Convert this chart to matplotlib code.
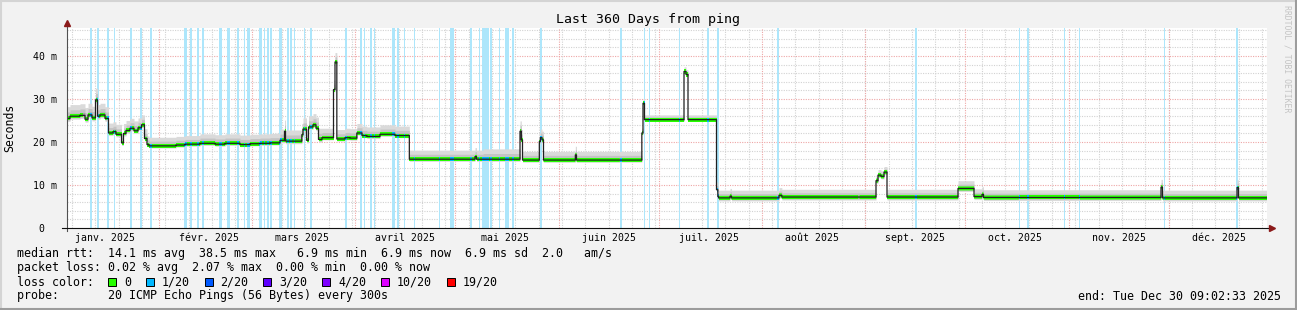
import datetime as dt
import numpy as np
import matplotlib
matplotlib.use("Agg")
import matplotlib.pyplot as plt
import matplotlib.dates as mdates
import matplotlib.patches as patches
from matplotlib.lines import Line2D

# ------------------------------------------------------------
# data
# ------------------------------------------------------------
START = dt.datetime(2025, 1, 4, 9, 2, 33)
END = dt.datetime(2025, 12, 30, 9, 2, 33)
SPAN_DAYS = 360

# median rtt in ms, as steps: day since START -> value
med_day = [0.0, 1.05, 4.05, 5.55, 6.45, 7.65, 8.7, 9.3, 10.05, 11.55,
           12.6, 13.95, 14.85, 16.5, 17.1, 17.85, 19.05, 20.25, 21.45, 22.5,
           23.4, 24.15, 24.75, 32.85, 35.55, 40.05, 44.55, 47.55, 52.05, 55.05,
           58.05, 61.05, 64.05, 65.4, 65.7, 70.56, 70.95, 72.0, 72.6, 73.95,
           74.85, 75.6, 76.65, 80.1, 80.55, 81.09, 83.55, 85.05, 87.06, 88.65,
           90.06, 94.05, 98.55, 102.84, 122.55, 123.0, 136.05, 136.44, 136.8, 141.84,
           142.14, 142.65, 143.1, 152.64, 153.0, 172.56, 172.95, 173.4, 185.25, 185.85,
           186.45, 195.0, 195.36, 195.6, 199.05, 199.5, 213.75, 214.56, 242.85, 243.45,
           244.35, 245.25, 246.15, 267.45, 272.25, 274.65, 275.1, 328.35, 328.8, 351.15,
           351.6]
med_ms = [25.5, 26.0, 26.2, 25.3, 26.3, 25.6, 29.8, 26.0, 26.3, 25.5,
          22.1, 22.4, 21.8, 19.8, 22.0, 22.7, 23.2, 22.6, 23.3, 24.0,
          20.8, 19.4, 19.1, 19.3, 19.5, 19.7, 19.5, 19.7, 19.4, 19.6,
          19.7, 19.8, 20.4, 22.5, 20.2, 21.7, 23.0, 20.4, 23.5, 24.0,
          23.2, 20.6, 21.0, 32.2, 38.6, 20.7, 21.0, 20.9, 22.1, 21.5,
          21.3, 21.8, 21.5, 16.0, 16.6, 16.0, 22.5, 20.5, 15.8, 20.1,
          21.0, 20.5, 15.8, 17.0, 15.8, 22.1, 29.0, 25.2, 36.4, 35.7,
          25.2, 8.9, 7.35, 7.0, 7.4, 7.0, 7.6, 7.2, 11.0, 12.3,
          12.0, 13.0, 7.2, 9.2, 7.3, 7.8, 7.1, 9.5, 7.0, 9.4,
          7.0]

# smoke spread around the median (ms above / below)
smoke_day = [0.0, 12.6, 24.15, 40.0, 64.05, 76.65, 102.84, 125.0, 136.8, 172.56, 195.0, 242.85, 246.15]
smoke_hi = [2.7, 2.3, 2.0, 2.2, 2.6, 2.2, 2.1, 2.4, 2.0, 1.1, 1.8, 1.3, 1.8]
smoke_lo = [0.7, 0.6, 0.5, 0.5, 0.6, 0.5, 0.5, 0.5, 0.5, 0.4, 0.7, 0.6, 0.7]

# 1/20 packet loss events: start day and length in days
loss_day = [5.1, 7.05, 9.09, 12.09, 14.25, 18.99, 21.99, 24.99, 35.19, 36.99,
            39.09, 40.59, 45.75, 48.09, 51.09, 53.25, 54.15, 57.69, 59.25, 60.15,
            61.05, 63.75, 66.15, 67.05, 68.25, 71.19, 72.99, 83.49, 87.99, 89.19,
            91.05, 92.19, 97.65, 99.15, 101.25, 104.25, 111.75, 115.05, 121.05, 123.75,
            124.65, 127.05, 129.75, 131.55, 133.65, 142.05, 166.05, 173.25, 174.75, 183.75,
            192.15, 195.15, 213.15, 237.6, 254.55, 285.75, 288.15, 299.25, 303.75, 329.25,
            350.85]
loss_len = [0.3, 0.6, 0.6, 0.6, 0.3, 0.6, 0.6, 0.6, 0.9, 0.6,
            0.6, 0.6, 0.9, 0.9, 0.6, 0.3, 0.9, 0.9, 0.3, 0.6,
            0.6, 0.9, 0.6, 0.6, 0.3, 0.3, 0.6, 0.6, 0.6, 0.3,
            0.6, 0.3, 0.9, 0.6, 0.3, 0.3, 0.3, 1.2, 0.5, 0.3,
            2.1, 0.6, 0.3, 1.2, 0.6, 0.6, 0.6, 0.3, 0.3, 0.3,
            0.6, 0.6, 0.6, 0.3, 0.6, 0.3, 0.6, 0.3, 0.3, 0.3,
            0.6]

month_labels = ["janv. 2025", "févr. 2025", "mars 2025", "avril 2025",
                "mai 2025", "juin 2025", "juil. 2025", "août 2025",
                "sept. 2025", "oct. 2025", "nov. 2025", "déc. 2025"]
y_ticks = [0, 10, 20, 30, 40]
y_tick_labels = ["0  ", "10 m", "20 m", "30 m", "40 m"]

rtt_stats = ["14.1", "38.5", "6.9", "6.9", "6.9", "2.0"]
loss_stats = ["0.02", "2.07", "0.00", "0.00"]
loss_names = ["0", "1/20", "2/20", "3/20", "4/20", "10/20", "19/20"]
loss_colors = ["#26ff00", "#00b8ff", "#0059ff", "#5e00ff", "#7e00ff", "#dd00ff", "#ff0000"]

# ------------------------------------------------------------
# style
# ------------------------------------------------------------
W, H = 1297, 310
BG = "#f2f2f2"
MONO = "DejaVu Sans Mono"
PX_L, PX_R, PX_T, PX_B = 66.5, 1266.5, 28, 228
YMAX = (PX_B - PX_T) / 4.3
GRID_MINOR = "#d2d2d2"
GRID_MAJOR = "#eea6a6"
STRIPE = "#ade6fb"
ARROW = "#8b1a1a"

plt.rcParams["font.family"] = MONO


def fx(px):
    return px / W


def fy(py):
    return 1 - py / H


fig = plt.figure(figsize=(W / 100, H / 100), dpi=100, facecolor=BG)
ax = fig.add_axes([fx(PX_L), fy(PX_B), (PX_R - PX_L) / W, (PX_B - PX_T) / H])
ax.set_facecolor("white")
for s in ax.spines.values():
    s.set_visible(False)

x0 = mdates.date2num(START)
x1 = mdates.date2num(END)
ax.set_xlim(x0, x1)
ax.set_ylim(0, YMAX)

# fine time grid, values looked up from the step knots
t = np.arange(0, SPAN_DAYS + 0.001, 0.05)
med = np.array(med_ms)[np.searchsorted(med_day, t, side="right") - 1]
k = np.searchsorted(smoke_day, t, side="right") - 1
hi = np.array(smoke_hi)[k]
lo = np.array(smoke_lo)[k]
lossy = np.zeros_like(t, dtype=bool)
for s, l in zip(loss_day, loss_len):
    lossy |= (t >= s) & (t < s + l)
x = x0 + t

# grid
for m in np.arange(2, YMAX, 2):
    if m % 10:
        ax.axhline(m, color=GRID_MINOR, lw=0.8, ls=(0, (1, 1.2)), zorder=1)
for m in y_ticks[1:]:
    ax.axhline(m, color=GRID_MAJOR, lw=0.8, ls=(0, (1, 1.2)), zorder=1)
weeks = mdates.WeekdayLocator(byweekday=mdates.MO).tick_values(START, END)
for w in weeks:
    ax.axvline(w, color=GRID_MINOR, lw=0.8, ls=(0, (1, 1.2)), zorder=1)
months = [m for m in mdates.MonthLocator().tick_values(START, END) if x0 < m < x1]
for m in months:
    ax.axvline(m, color=GRID_MAJOR, lw=0.8, ls=(0, (1, 1.2)), zorder=1)

# loss background stripes
for s, l in zip(loss_day, loss_len):
    ax.axvspan(x0 + s, x0 + s + l, color=STRIPE, lw=0, zorder=2)

# smoke
ax.fill_between(x, med - lo, med + hi, step="post", color="#dadada", lw=0, zorder=3)
ax.fill_between(x, med - lo * 0.6, med + hi * 0.55, step="post", color="#c4c4c4", lw=0, zorder=3)
ax.fill_between(x, med - lo * 0.3, med + hi * 0.25, step="post", color="#a2a2a2", lw=0, zorder=3)

# median band coloured by loss, then the median line
bw = 0.47
ax.fill_between(x, med - bw, med + bw, where=~lossy, step="post",
                color=loss_colors[0], lw=0, zorder=4)
ax.fill_between(x, med - bw, med + bw, where=lossy, step="post",
                color=loss_colors[1], lw=0, zorder=4)
ax.step(x, med, where="post", color="#202020", lw=0.9, zorder=5)

# ticks
ax.set_yticks(y_ticks)
ax.set_yticklabels(y_tick_labels, fontsize=7.1)
ax.tick_params(axis="y", length=0, pad=6.5)
ax.xaxis.set_major_locator(mdates.MonthLocator(bymonthday=16))
ax.xaxis.set_major_formatter(plt.FuncFormatter(
    lambda v, p: month_labels[mdates.num2date(v).month - 1]))
ax.tick_params(axis="x", length=0, pad=3.5, labelsize=7.1)

# axis lines with arrows
fig.add_artist(Line2D([fx(PX_L), fx(PX_L)], [fy(PX_B + 3), fy(PX_T - 4)],
                      color="#505050", lw=0.8))
fig.add_artist(Line2D([fx(PX_L - 4), fx(PX_R + 3)], [fy(PX_B), fy(PX_B)],
                      color="#101010", lw=0.8))
fig.add_artist(Line2D([fx(PX_L)], [fy(PX_T - 5)], marker="^", ms=4.5,
                      color=ARROW, lw=0))
fig.add_artist(Line2D([fx(PX_R + 5)], [fy(PX_B)], marker=">", ms=4.5,
                      color=ARROW, lw=0))

# titles
fig.text(0.5, fy(19), "Last 360 Days from ping", ha="center", va="center", fontsize=9.5)
fig.text(fx(10), fy(128), "Seconds", ha="center", va="center", rotation=90, fontsize=8.3)
fig.text(fx(1287), fy(5), "RRDTOOL / TOBI OETIKER", ha="center", va="top",
         rotation=270, fontsize=5.9, color="#c4c4c4")

# legend
LEG_X = 16.6
fs = 8.4
CW = 6.95
fig.text(fx(LEG_X), fy(254),
         "median rtt:  %s ms avg  %s ms max   %s ms min  %s ms now  %s ms sd  %s   am/s"
         % tuple(rtt_stats), va="center", fontsize=fs)
fig.text(fx(LEG_X), fy(268),
         "packet loss: %s %% avg  %s %% max  %s %% min  %s %% now" % tuple(loss_stats),
         va="center", fontsize=fs)
fig.text(fx(LEG_X), fy(282), "loss color:", va="center", fontsize=fs)
bx = 107.8
for name, col in zip(loss_names, loss_colors):
    fig.add_artist(patches.Rectangle((fx(bx), fy(286)), 8 / W, 8 / H,
                                     facecolor=col, edgecolor="black", lw=0.7,
                                     transform=fig.transFigure))
    fig.text(fx(bx + 16), fy(282), name, va="center", fontsize=fs)
    bx += 16 + len(name) * CW + 15
fig.text(fx(LEG_X), fy(296), "probe:       20 ICMP Echo Pings (56 Bytes) every 300s",
         va="center", fontsize=fs)
fig.text(fx(1281), fy(296), "end: Tue Dec 30 09:02:33 2025", ha="right",
         va="center", fontsize=fs)

# frame
fig.add_artist(Line2D([0, 1], [fy(1), fy(1)], color="#d4d4d4", lw=1.5))
fig.add_artist(Line2D([fx(1), fx(1)], [0, 1], color="#d4d4d4", lw=1.5))
fig.add_artist(Line2D([0, 1], [fy(309), fy(309)], color="#9c9c9c", lw=1.5))
fig.add_artist(Line2D([fx(1296), fx(1296)], [0, 1], color="#9c9c9c", lw=1.5))

fig.savefig("out.png", dpi=100, facecolor=BG)
